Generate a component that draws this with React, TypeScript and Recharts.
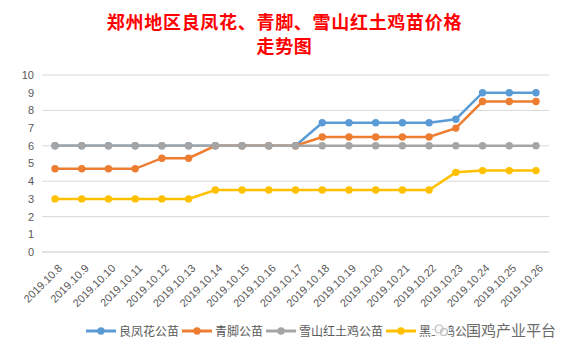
import React from 'react';
import { LineChart, Line, XAxis, YAxis, CartesianGrid } from 'recharts';

const dates = [
  '2019.10.8', '2019.10.9', '2019.10.10', '2019.10.11', '2019.10.12', '2019.10.13', '2019.10.14',
  '2019.10.15', '2019.10.16', '2019.10.17', '2019.10.18', '2019.10.19', '2019.10.20', '2019.10.21',
  '2019.10.22', '2019.10.23', '2019.10.24', '2019.10.25', '2019.10.26',
];
const liangfenghua = [6, 6, 6, 6, 6, 6, 6, 6, 6, 6, 7.3, 7.3, 7.3, 7.3, 7.3, 7.5, 9, 9, 9];
const qingjiao = [4.7, 4.7, 4.7, 4.7, 5.3, 5.3, 6, 6, 6, 6, 6.5, 6.5, 6.5, 6.5, 6.5, 7, 8.5, 8.5, 8.5];
const xueshan = [6, 6, 6, 6, 6, 6, 6, 6, 6, 6, 6, 6, 6, 6, 6, 6, 6, 6, 6];
const heitu = [3, 3, 3, 3, 3, 3, 3.5, 3.5, 3.5, 3.5, 3.5, 3.5, 3.5, 3.5, 3.5, 4.5, 4.6, 4.6, 4.6];
const yTicks = [0, 1, 2, 3, 4, 5, 6, 7, 8, 9, 10];

const series = [
  { key: 'a', name: '良凤花公苗', color: '#5B9BD5', values: liangfenghua },
  { key: 'b', name: '青脚公苗', color: '#ED7D31', values: qingjiao },
  { key: 'c', name: '雪山红土鸡公苗', color: '#A5A5A5', values: xueshan },
  { key: 'd', name: '黑土鸡公苗', color: '#FFC000', values: heitu },
];

const data = dates.map((d, i) => {
  const row: Record<string, string | number> = { date: d };
  series.forEach((s) => (row[s.key] = s.values[i]));
  return row;
});

const CJK = '"Noto Sans CJK SC", "Noto Sans", sans-serif';
const LATIN = '"Liberation Sans", Arial, sans-serif';

// 斜45度的日期标签
function DateTick(props: any) {
  const { x, y, payload } = props;
  return (
    <text
      transform={`translate(${x + 5},${y + 6}) rotate(-45)`}
      textAnchor="end"
      dominantBaseline="central"
      fontSize={11}
      fontFamily={LATIN}
      fill="#595959"
    >
      {payload.value}
    </text>
  );
}

export default function App() {
  return (
    <div style={{ position: 'relative', width: 567, height: 354, margin: -8, background: '#fff', overflow: 'hidden' }}>
      <div
        style={{
          position: 'absolute', left: 2, top: 2, width: 562, height: 348,
          border: '1px solid #d9d9d9', boxSizing: 'border-box',
        }}
      />
      <div
        style={{
          position: 'absolute', left: 2, top: 9, width: 565, textAlign: 'center',
          color: '#FF0000', fontFamily: CJK, fontWeight: 700, fontSize: 18, lineHeight: '24px',
          letterSpacing: 0.7,
        }}
      >
        <div>郑州地区良凤花、青脚、雪山红土鸡苗价格</div>
        <div>走势图</div>
      </div>
      <div style={{ position: 'absolute', left: 0, top: 0 }}>
        <LineChart width={567} height={354} data={data} margin={{ top: 75, right: 18, bottom: 42, left: 0 }}>
          <CartesianGrid vertical={false} stroke="#d9d9d9" strokeWidth={1} />
          <XAxis
            dataKey="date"
            interval={0}
            height={60}
            padding={{ left: 13, right: 13 }}
            tickLine={false}
            axisLine={{ stroke: '#d9d9d9' }}
            tick={<DateTick />}
          />
          <YAxis
            width={42}
            domain={[0, 10]}
            ticks={yTicks}
            axisLine={false}
            tickLine={false}
            tickSize={0}
            tickMargin={8}
            tick={{ fontSize: 11, fill: '#595959', fontFamily: LATIN }}
          />
          {series.map((s) => (
            <Line
              key={s.key}
              dataKey={s.key}
              name={s.name}
              stroke={s.color}
              strokeWidth={2.5}
              dot={{ r: 3.7, fill: s.color, stroke: 'none' }}
              isAnimationActive={false}
            />
          ))}
        </LineChart>
      </div>
      {/* 图例 */}
      <div
        style={{
          position: 'absolute', left: 86, top: 322, display: 'flex', alignItems: 'center',
          fontFamily: CJK, fontSize: 12, color: '#595959', whiteSpace: 'nowrap',
        }}
      >
        {series.map((s) => (
          <div key={s.key} style={{ display: 'flex', alignItems: 'center', marginRight: 3 }}>
            <svg width={30} height={18}>
              <line x1={0} y1={9} x2={30} y2={9} stroke={s.color} strokeWidth={3} />
              <circle cx={15} cy={9} r={3.7} fill={s.color} />
            </svg>
            <span style={{ marginLeft: 3, lineHeight: '18px' }}>{s.name}</span>
          </div>
        ))}
      </div>
      {/* 水印 */}
      <div
        style={{
          position: 'absolute', left: 432, top: 320, display: 'flex', alignItems: 'center',
          fontFamily: CJK, fontSize: 15, color: '#6b6b6b', whiteSpace: 'nowrap',
        }}
      >
        <svg width={18} height={18}>
          <circle cx={9} cy={9} r={8} fill="rgba(255,255,255,0.9)" />
          <circle cx={7} cy={8} r={4} fill="none" stroke="#bbb" strokeWidth={1.2} />
          <circle cx={12} cy={11} r={3.5} fill="none" stroke="#bbb" strokeWidth={1.2} />
        </svg>
        <span style={{ marginLeft: 16, background: 'rgba(255,255,255,0.85)', lineHeight: '20px' }}>国鸡产业平台</span>
      </div>
    </div>
  );
}
